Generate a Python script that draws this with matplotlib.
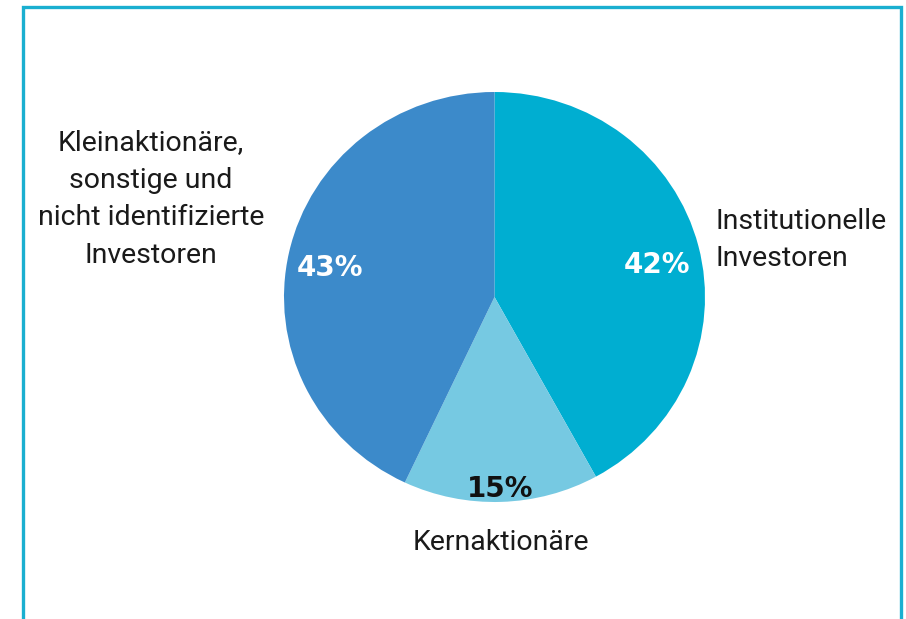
import matplotlib
matplotlib.use("Agg")
import matplotlib.pyplot as plt

# shareholder structure
labels = ["Institutionelle\nInvestoren", "Kernaktionäre",
          "Kleinaktionäre,\nsonstige und\nnicht identifizierte\nInvestoren"]
shares = [42, 15, 43]
colors = ["#00AED1", "#76C9E2", "#3C8ACA"]
pct_colors = ["white", "#111111", "white"]

W, H = 906, 619
fig = plt.figure(figsize=(W / 100, H / 100), dpi=100)
plt.rcParams["font.family"] = ["Roboto", "DejaVu Sans"]

# frame around the chart (open at the bottom)
frame = fig.add_axes([0, 0, 1, 1])
frame.set_xlim(0, W)
frame.set_ylim(H, 0)
frame.axis("off")
frame.plot([22.5, 22.5, 901, 901], [H + 5, 6.5, 6.5, H + 5], color="#1AAFD0", lw=2.4,
           solid_joinstyle="miter")

# pie box in pixels: centre (494.5, 297), radii 210.5 x 205
cx, cy, rx, ry = 494.5, 297, 210.5, 205
ax = fig.add_axes([(cx - rx) / W, (H - cy - ry) / H, 2 * rx / W, 2 * ry / H])
ax.pie(shares, colors=colors, startangle=90, counterclock=False,
       radius=1, wedgeprops=dict(linewidth=0))
ax.set_aspect("auto")
ax.set_xlim(-1, 1)
ax.set_ylim(-1, 1)
ax.axis("off")


def px(x, y):
    return (x - cx) / rx, (cy - y) / ry


pct_pos = [px(657, 265), px(500, 489), px(330, 268)]
for val, (x, y), c in zip(shares, pct_pos, pct_colors):
    ax.text(x, y, f"{val}%", color=c, fontsize=20, fontweight="bold",
            family="DejaVu Sans", ha="center", va="center", clip_on=False)

lab_kw = dict(fontsize=20.5, color="#1a1a1a", va="center", clip_on=False, linespacing=1.5)
x, y = px(715, 240)
ax.text(x, y, labels[0], ha="left", **lab_kw)
x, y = px(501, 542)
ax.text(x, y, labels[1], ha="center", **lab_kw)
x, y = px(151, 199)
ax.text(x, y, labels[2], ha="center", multialignment="center", **lab_kw)

fig.savefig("out.png", dpi=100)
